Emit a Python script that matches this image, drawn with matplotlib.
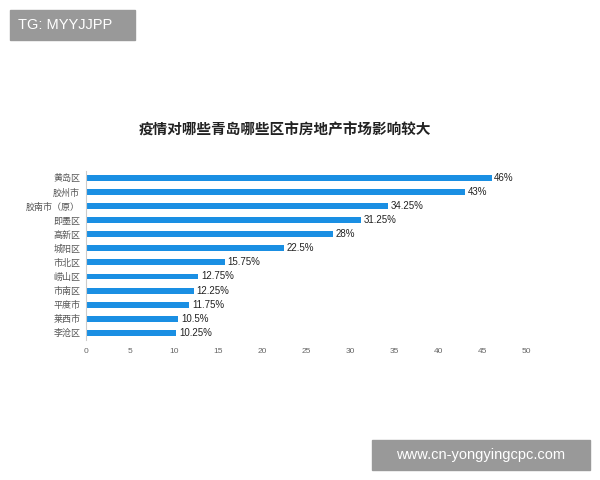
import matplotlib
matplotlib.use("Agg")
import matplotlib.pyplot as plt
from matplotlib.patches import Rectangle

plt.rcParams['font.family'] = ['Liberation Sans', 'Noto Sans CJK SC']

categories = ["黄岛区", "胶州市", "胶南市（原）", "即墨区", "高新区", "城阳区", "市北区",
              "崂山区", "市南区", "平度市", "莱西市", "李沧区"]
values = [46, 43, 34.25, 31.25, 28, 22.5, 15.75, 12.75, 12.25, 11.75, 10.5, 10.25]
labels = ["46%", "43%", "34.25%", "31.25%", "28%", "22.5%", "15.75%", "12.75%",
          "12.25%", "11.75%", "10.5%", "10.25%"]
xticks = [0, 5, 10, 15, 20, 25, 30, 35, 40, 45, 50]

fig = plt.figure(figsize=(6, 4.8), dpi=100)
ax = fig.add_axes([0.143, 0.292, 0.735, 0.352])
y = list(range(len(categories)))
ax.barh(y, values, height=0.42, color="#1a8fe3")
for yi, v, lab in zip(y, values, labels):
    ax.text(v + 0.3, yi, lab, va="center", ha="left", fontsize=7, color="#222222")
ax.set_yticks(y)
ax.set_yticklabels(categories, fontsize=6.5, color="#555555")
ax.set_ylim(len(categories) - 0.5, -0.5)
ax.set_xlim(0, 50)
ax.set_xticks(xticks)
ax.set_xticklabels([str(t) for t in xticks], fontsize=6, color="#666666")
for s in ["top", "right", "bottom"]:
    ax.spines[s].set_visible(False)
ax.spines["left"].set_color("#cccccc")
ax.tick_params(axis="both", length=0)
ax.tick_params(axis="x", pad=6)
ax.tick_params(axis="y", pad=4)

fig.text(0.475, 0.728, "疫情对哪些青岛哪些区市房地产市场影响较大", ha="center", va="center",
         fontsize=10.5, fontweight="bold", color="#222222")

fig.patches.append(Rectangle((10/600, 1-40/480), 125/600, 30/480, transform=fig.transFigure,
                             color="#999999", zorder=5))
fig.text(18/600, 1-25/480, "TG: MYYJJPP", color="white", fontsize=10.5, va="center", zorder=6)
fig.patches.append(Rectangle((372/600, 1-470/480), 218/600, 30/480, transform=fig.transFigure,
                             color="#999999", zorder=5))
fig.text(481/600, 1-455/480, "www.cn-yongyingcpc.com", color="white", fontsize=10.5,
         va="center", ha="center", zorder=6)

fig.savefig("out.png", dpi=100, facecolor="white")
